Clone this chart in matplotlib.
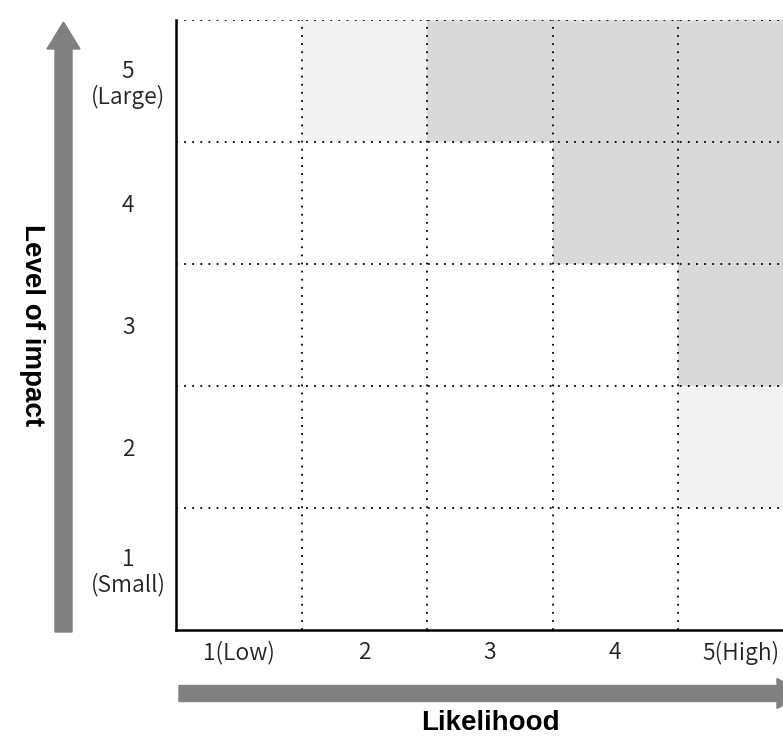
import matplotlib
matplotlib.use('Agg')
import matplotlib.pyplot as plt
from matplotlib.colors import ListedColormap
from matplotlib.patches import FancyArrow
import numpy as np

plt.rcParams['font.family'] = ['Noto Sans CJK JP', 'DejaVu Sans']

x_labels = ['1(Low)', '2', '3', '4', '5(High)']
y_labels = ['1\n(Small)', '2', '3', '4', '5\n(Large)']
# shading level per cell, rows from impact 1 (bottom) to 5 (top)
levels = [
    [0, 0, 0, 0, 0],
    [0, 0, 0, 0, 1],
    [0, 0, 0, 0, 2],
    [0, 0, 0, 2, 2],
    [0, 1, 2, 2, 2],
]
shades = ['#ffffff', '#f2f2f2', '#d9d9d9']

W, H = 7.83, 7.37
fig = plt.figure(figsize=(W, H), dpi=100)
ax = fig.add_axes([176 / 783, 107 / 737, 627.5 / 783, 610 / 737])

ax.pcolormesh(np.arange(6), np.arange(6), np.array(levels),
              cmap=ListedColormap(shades), vmin=-0.5, vmax=2.5)
ax.set_xlim(0, 5)
ax.set_ylim(0, 5)

tick_font = dict(fontsize=16.5, color='#222222', fontweight=350)
ax.set_xticks(np.arange(5) + 0.5)
ax.set_xticklabels(x_labels, **tick_font)
ax.set_yticks(np.arange(5) + 0.5)
ax.set_yticklabels(y_labels, ha='center', linespacing=1.1, **tick_font)
ax.tick_params(axis='both', length=0)
ax.tick_params(axis='y', pad=34.5)
ax.tick_params(axis='x', pad=8)

ax.set_xticks(np.arange(1, 6), minor=True)
ax.set_yticks(np.arange(1, 6), minor=True)
ax.tick_params(which='minor', length=0)
ax.grid(which='minor', color='black', linestyle=(0, (1, 3.5)), linewidth=1.3)
ax.grid(which='major', visible=False)
ax.set_axisbelow(False)

for s in ['top', 'right']:
    ax.spines[s].set_visible(False)
ax.spines['left'].set_linewidth(1.8)
ax.spines['bottom'].set_linewidth(1.8)

# gray arrows (inches)
grey = '#808080'
fig.add_artist(FancyArrow(0.635, 1.05, 0, 6.1, width=0.17, head_width=0.33,
                          head_length=0.27, length_includes_head=True,
                          color=grey, transform=fig.dpi_scale_trans))
fig.add_artist(FancyArrow(1.79, 0.435, 6.25, 0, width=0.16, head_width=0.30,
                          head_length=0.27, length_includes_head=True,
                          color=grey, transform=fig.dpi_scale_trans))

label_font = dict(family=['Liberation Sans', 'DejaVu Sans'], fontsize=20,
                  fontweight='bold')
fig.text(32 / 783, 1 - 325 / 737, 'Level of impact', rotation=-90,
         ha='center', va='center', **label_font)
fig.text(490.5 / 783, 1 - 730 / 737, 'Likelihood',
         ha='center', va='baseline', **label_font)

fig.savefig('out.png', dpi=100)
